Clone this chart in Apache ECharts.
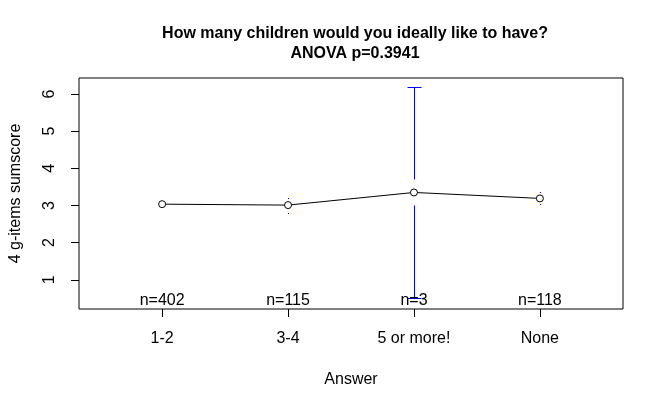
<!DOCTYPE html>
<html>
<head>
<meta charset="utf-8">
<script src="https://cdn.jsdelivr.net/npm/echarts@6/dist/echarts.min.js"></script>
<style>
html,body{margin:0;padding:0;background:#fff;}
#c{width:661px;height:407px;}
</style>
</head>
<body>
<div id="c"></div>
<script>
var categories = ['1-2', '3-4', '5 or more!', 'None'];
var positions = [1, 2, 3, 4];
var means = [3.035, 3.01, 3.35, 3.19];
var ciLower = [2.975, 2.79, 0.52, 3.03];
var ciUpper = [3.095, 3.20, 6.18, 3.36];
var counts = [402, 115, 3, 118];
var yTicks = [1, 2, 3, 4, 5, 6];
var xMin = 0.34, xMax = 4.66, yMin = 0.214, yMax = 6.43;

var FONT = 'Liberation Sans, Arial, sans-serif';
var chart = echarts.init(document.getElementById('c'), null, {renderer: 'canvas'});

var lineData = positions.map(function (p, i) { return [p, means[i]]; });
var ebData = positions.map(function (p, i) { return [p, means[i], ciLower[i], ciUpper[i]]; });
var nData = positions.map(function (p, i) { return [p, yMin, counts[i]]; });

var GAP = 13, CAP = 7;
function renderEB(params, api) {
  var x = api.value(0);
  var m = api.coord([x, api.value(1)]);
  var lo = api.coord([x, api.value(2)]);
  var hi = api.coord([x, api.value(3)]);
  var style = {stroke: '#0000FF', lineWidth: 1, fill: null};
  var children = [];
  var cx = Math.round(m[0]) + 0.5;
  if (hi[1] < m[1] - GAP) {
    children.push({type: 'line', shape: {x1: cx, y1: m[1] - GAP, x2: cx, y2: hi[1]}, style: style});
    children.push({type: 'line', shape: {x1: cx - CAP, y1: Math.round(hi[1]) + 0.5, x2: cx + CAP, y2: Math.round(hi[1]) + 0.5}, style: style});
  } else {
    children.push({type: 'rect', shape: {x: Math.round(m[0]), y: Math.round(hi[1]), width: 1, height: 1}, style: {fill: '#0000FF'}});
  }
  if (lo[1] > m[1] + GAP) {
    children.push({type: 'line', shape: {x1: cx, y1: m[1] + GAP, x2: cx, y2: lo[1]}, style: style});
    children.push({type: 'line', shape: {x1: cx - CAP, y1: Math.round(lo[1]) + 0.5, x2: cx + CAP, y2: Math.round(lo[1]) + 0.5}, style: style});
  } else {
    children.push({type: 'rect', shape: {x: Math.round(m[0]), y: Math.round(lo[1]), width: 1, height: 1}, style: {fill: '#0000FF'}});
  }
  return {type: 'group', children: children};
}

var option = {
  animation: false,
  backgroundColor: '#ffffff',
  title: {
    text: 'How many children would you ideally like to have?\nANOVA p=0.3941',
    left: 350,
    top: 19,
    textAlign: 'center',
    textStyle: {fontFamily: FONT, fontSize: 16, fontWeight: 'bold', color: '#000', lineHeight: 20}
  },
  grid: {
    left: 77, right: 38, top: 78, bottom: 98,
    show: true, borderColor: '#000', borderWidth: 1, backgroundColor: 'transparent'
  },
  xAxis: {
    type: 'value', min: xMin, max: xMax,
    name: 'Answer', nameLocation: 'middle', nameGap: 63,
    nameTextStyle: {fontFamily: FONT, fontSize: 16, color: '#000'},
    axisLine: {show: false},
    splitLine: {show: false},
    axisTick: {show: true, length: 8, customValues: positions, lineStyle: {color: '#000'}},
    axisLabel: {
      customValues: positions, margin: 22,
      fontFamily: FONT, fontSize: 16, color: '#000',
      formatter: function (v) { return categories[Math.round(v) - 1]; }
    }
  },
  yAxis: {
    type: 'value', min: yMin, max: yMax,
    name: '4 g-items sumscore', nameLocation: 'middle', nameGap: 55, nameRotate: 90,
    nameTextStyle: {fontFamily: FONT, fontSize: 16, color: '#000'},
    axisLine: {show: false},
    splitLine: {show: false},
    axisTick: {show: true, length: 8, customValues: yTicks, lineStyle: {color: '#000'}},
    axisLabel: {
      customValues: yTicks, rotate: 90, margin: 21,
      fontFamily: FONT, fontSize: 16, color: '#000'
    }
  },
  series: [
    {
      type: 'custom', renderItem: renderEB, data: ebData, z: 1,
      encode: {x: 0, y: [1, 2, 3]}, silent: true
    },
    {
      type: 'line', data: lineData, z: 3,
      lineStyle: {color: '#000', width: 1},
      symbol: 'circle', symbolSize: 7,
      itemStyle: {color: '#fff', borderColor: '#000', borderWidth: 1},
      silent: true
    },
    {
      type: 'scatter', data: nData, symbolSize: 0, z: 4, silent: true,
      itemStyle: {opacity: 1},
      label: {
        show: true, position: 'top', distance: 0,
        fontFamily: FONT, fontSize: 16, color: '#000',
        formatter: function (p) { return 'n=' + p.value[2]; }
      }
    }
  ]
};
chart.setOption(option);
</script>
</body>
</html>
